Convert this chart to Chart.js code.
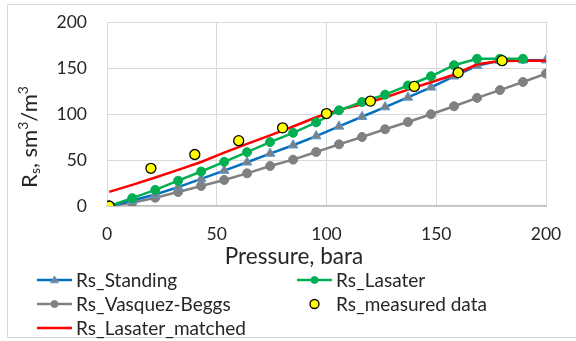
<!DOCTYPE html>
<html>
<head>
<meta charset="utf-8">
<script src="https://cdn.jsdelivr.net/npm/chart.js@4/dist/chart.umd.min.js"></script>
<style>
  body { margin: 0; background: #fff; }
  #wrap { width: 576px; height: 341px; position: relative; }
</style>
</head>
<body>
<div id="wrap"><canvas id="myChart"></canvas></div>
<script>
// pressure grid used by the correlations (bara)
const pressure = [1, 11.5, 22, 32.4, 42.9, 53.4, 63.8, 74.3, 84.8, 95.3, 105.7, 116.2, 126.7, 137.1, 147.6, 158.1, 168.6, 179, 189.5, 200]

const rsStanding = [0, 6, 12.5, 20.5, 29.5, 38.5, 47.5, 57, 66, 76, 86.5, 97, 107.5, 118, 129, 141, 152.5, 158, 158.5, 158.5]
const rsLasater = [0, 8.5, 17.5, 27.5, 37.5, 48, 58.5, 69.5, 79.5, 91, 104, 113, 121, 131, 141, 153, 160, 160, 160, null]
const rsVasquez = [0, 3.5, 9, 15.2, 21.8, 28.3, 35.5, 43.5, 50.4, 58.7, 67, 75, 83.4, 91.3, 99.7, 108.4, 117.5, 126, 134.8, 143.9]
const rsMatched = [15.3, 23, 31, 39.2, 47.8, 58, 67.6, 76.8, 86.4, 96.5, 104.5, 110.6, 118, 126.5, 134.5, 142.7, 154, 157.6, 158, 158]

const measuredP = [1, 20, 40, 60, 80, 100, 120, 140, 160, 180]
const measuredRs = [0, 41, 56, 71, 85, 100.5, 114, 130, 145, 158]

const xTicks = [0, 50, 100, 150, 200]
const yTicks = [0, 50, 100, 150, 200]

const FONT = 'Lato, "Open Sans", sans-serif'
const TXT = '#262626'

const pts = (xs, ys) => xs.map((x, i) => ({ x: x, y: ys[i] })).filter(p => p.y !== null)

// draws the border, axis titles and the two-column legend
const extras = {
  id: 'extras',
  afterDraw(chart) {
    const ctx = chart.ctx
    ctx.save()

    ctx.strokeStyle = '#d9d9d9'
    ctx.lineWidth = 1
    ctx.strokeRect(7.5, 4.5, 600, 333)

    ctx.fillStyle = TXT
    ctx.textBaseline = 'middle'

    // x title
    ctx.font = '22.5px ' + FONT
    ctx.textAlign = 'center'
    ctx.fillText('Pressure, bara', 294, 257)

    // y title with sub/superscripts
    const parts = [
      ['R', 22, 0], ['s', 14, 5], [', sm', 22, 0], ['3', 14, -7], ['/m', 22, 0], ['3', 14, -7]
    ]
    let total = 0
    parts.forEach(p => { ctx.font = p[1] + 'px ' + FONT; total += ctx.measureText(p[0]).width })
    ctx.translate(30, 137)
    ctx.rotate(-Math.PI / 2)
    ctx.textAlign = 'left'
    let cx = -total / 2
    parts.forEach(p => {
      ctx.font = p[1] + 'px ' + FONT
      ctx.fillText(p[0], cx, p[2])
      cx += ctx.measureText(p[0]).width
    })
    ctx.setTransform(1, 0, 0, 1, 0, 0)

    // legend
    const slots = [[37, 280], [297, 280], [37, 304], [297, 304], [37, 328]]
    ctx.font = '19px ' + FONT
    ctx.textAlign = 'left'
    chart.data.datasets.forEach((ds, k) => {
      const [lx, ly] = slots[k]
      if (ds.showLine !== false) {
        ctx.strokeStyle = ds.borderColor
        ctx.lineWidth = ds.borderWidth
        ctx.beginPath()
        ctx.moveTo(lx, ly)
        ctx.lineTo(lx + 35, ly)
        ctx.stroke()
      }
      const mx = lx + 17.5
      if (ds.pointRadius > 0) {
        ctx.fillStyle = ds.pointBackgroundColor
        ctx.strokeStyle = ds.pointBorderColor
        ctx.lineWidth = ds.pointBorderWidth
        ctx.beginPath()
        if (ds.pointStyle === 'triangle') {
          const r = 4
          ctx.moveTo(mx, ly - r)
          ctx.lineTo(mx + r, ly + r * 0.7)
          ctx.lineTo(mx - r, ly + r * 0.7)
          ctx.closePath()
        } else {
          ctx.arc(mx, ly, ds.showLine === false ? 4.5 : 3.5, 0, Math.PI * 2)
        }
        ctx.fill()
        ctx.stroke()
      }
      ctx.fillStyle = TXT
      ctx.fillText(ds.label, lx + 39, ly + 1)
    })
    ctx.restore()
  }
}

const ctx = document.getElementById('myChart')

new Chart(ctx, {
  type: 'scatter',
  data: {
    datasets: [{
      label: 'Rs_Standing',
      data: pts(pressure, rsStanding),
      showLine: true,
      borderColor: '#0070c0',
      borderWidth: 2.5,
      pointStyle: 'triangle',
      pointRadius: 5.5,
      pointBackgroundColor: '#7f7f7f',
      pointBorderColor: '#5b9bd5',
      pointBorderWidth: 1,
      order: 3
    }, {
      label: 'Rs_Lasater',
      data: pts(pressure, rsLasater),
      showLine: true,
      borderColor: '#00b050',
      borderWidth: 2.5,
      pointRadius: 4.5,
      pointBackgroundColor: '#00b050',
      pointBorderColor: '#00b050',
      pointBorderWidth: 1,
      order: 1
    }, {
      label: 'Rs_Vasquez-Beggs',
      data: pts(pressure, rsVasquez),
      showLine: true,
      borderColor: '#808080',
      borderWidth: 2.5,
      pointRadius: 4.5,
      pointBackgroundColor: '#808080',
      pointBorderColor: '#808080',
      pointBorderWidth: 1,
      order: 4
    }, {
      label: 'Rs_measured data',
      data: pts(measuredP, measuredRs),
      showLine: false,
      pointRadius: 5,
      pointBackgroundColor: '#ffff00',
      pointBorderColor: '#000000',
      pointBorderWidth: 1.3,
      order: 0
    }, {
      label: 'Rs_Lasater_matched',
      data: pts(pressure, rsMatched),
      showLine: true,
      borderColor: '#ff0000',
      borderWidth: 2.5,
      pointRadius: 0,
      order: 2
    }]
  },
  options: {
    responsive: true,
    maintainAspectRatio: false,
    animation: false,
    layout: { autoPadding: false, padding: { top: 22, right: 30, left: 0, bottom: 0 } },
    plugins: { legend: { display: false }, tooltip: { enabled: false } },
    scales: {
      x: {
        type: 'linear',
        min: 0,
        max: 200,
        afterBuildTicks: s => { s.ticks = xTicks.map(v => ({ value: v })) },
        afterFit: s => { s.height = 135; s.paddingLeft = 0; s.paddingRight = 0 },
        grid: { color: '#d9d9d9', drawTicks: false },
        border: { color: '#bfbfbf', width: 1.5 },
        ticks: { padding: 18, color: TXT, font: { family: FONT, size: 17.5 }, maxRotation: 0 }
      },
      y: {
        min: 0,
        max: 200,
        afterBuildTicks: s => { s.ticks = yTicks.map(v => ({ value: v })) },
        afterFit: s => { s.width = 107; s.paddingTop = 0; s.paddingBottom = 0 },
        grid: { color: '#d9d9d9', drawTicks: false },
        border: { color: '#d9d9d9' },
        ticks: { padding: 20, color: TXT, font: { family: FONT, size: 17.5 } }
      }
    }
  },
  plugins: [extras]
})
</script>
</body>
</html>
